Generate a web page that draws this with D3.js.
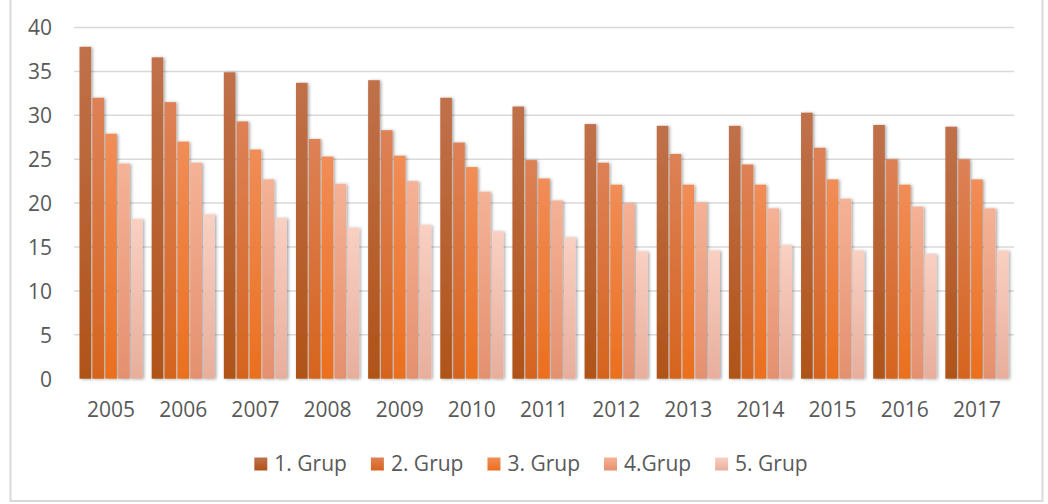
<!DOCTYPE html>
<html>
<head>
<meta charset="utf-8">
<script src="https://cdn.jsdelivr.net/npm/d3@7"></script>
<style>
  body { margin: 0; background: #fff; }
  svg text { font-family: "Open Sans", "Noto Sans", sans-serif; fill: #595959; }
</style>
</head>
<body>
<div id="chart"></div>
<script>
// data
const years = ["2005", "2006", "2007", "2008", "2009", "2010", "2011", "2012", "2013", "2014", "2015", "2016", "2017"];
const groups = ["1. Grup", "2. Grup", "3. Grup", "4.Grup", "5. Grup"];
const grup1 = [37.8, 36.6, 34.9, 33.7, 34.0, 32.0, 31.0, 29.0, 28.8, 28.8, 30.3, 28.9, 28.7];
const grup2 = [32.0, 31.5, 29.3, 27.3, 28.3, 26.9, 24.9, 24.6, 25.6, 24.4, 26.3, 25.0, 25.0];
const grup3 = [27.9, 27.0, 26.1, 25.3, 25.4, 24.1, 22.8, 22.1, 22.1, 22.1, 22.7, 22.1, 22.7];
const grup4 = [24.5, 24.6, 22.7, 22.2, 22.5, 21.3, 20.3, 20.0, 20.1, 19.4, 20.5, 19.6, 19.4];
const grup5 = [18.2, 18.7, 18.3, 17.2, 17.5, 16.8, 16.1, 14.5, 14.6, 15.2, 14.6, 14.2, 14.6];
const yTicks = [0, 5, 10, 15, 20, 25, 30, 35, 40];

const series = [grup1, grup2, grup3, grup4, grup5];
// top / bottom gradient stops for each group
const colors = [
    ["#c0714b", "#b05318"],
    ["#dd8156", "#d6641e"],
    ["#f18d57", "#eb6f1e"],
    ["#f5b296", "#e4906f"],
    ["#f9d0c2", "#e8ae9c"]
];

const w = 1048, h = 504;
const plotLeft = 75, plotRight = 1013, plotTop = 27.5, plotBottom = 378.7;

const svg = d3.select("#chart").append("svg")
    .attr("width", w)
    .attr("height", h);

const defs = svg.append("defs");
colors.forEach((c, i) => {
    const g = defs.append("linearGradient")
        .attr("id", "grad" + i)
        .attr("x1", 0).attr("y1", 0).attr("x2", 0).attr("y2", 1);
    g.append("stop").attr("offset", "0%").attr("stop-color", c[0]);
    g.append("stop").attr("offset", "100%").attr("stop-color", c[1]);
});
defs.append("filter")
    .attr("id", "shadow")
    .attr("x", "-50%").attr("y", "-10%").attr("width", "200%").attr("height", "120%")
  .append("feDropShadow")
    .attr("dx", 1.5).attr("dy", 0.5).attr("stdDeviation", 1.6)
    .attr("flood-color", "#000").attr("flood-opacity", 0.35);
defs.append("filter")
    .attr("id", "lineShadow")
    .attr("x", "-5%").attr("y", "-200%").attr("width", "110%").attr("height", "500%")
  .append("feDropShadow")
    .attr("dx", 0).attr("dy", 1.5).attr("stdDeviation", 1.2)
    .attr("flood-color", "#000").attr("flood-opacity", 0.25);

// outer frame
svg.append("rect")
    .attr("x", 10.5).attr("y", -2)
    .attr("width", 1032).attr("height", 503)
    .attr("fill", "none")
    .attr("stroke", "#d9d9d9")
    .attr("stroke-width", 2);

const y = d3.scaleLinear().domain([0, 40]).range([plotBottom, plotTop]);
const x0 = d3.scaleBand().domain(years).range([plotLeft, plotRight])
    .paddingInner(0.125).paddingOuter(0.0625);
const x1 = d3.scaleBand().domain(d3.range(groups.length)).range([0, x0.bandwidth()])
    .paddingInner(0.1);

// gridlines
svg.append("g")
    .selectAll("line")
    .data(yTicks.filter(d => d > 0))
    .enter()
    .append("line")
        .attr("x1", plotLeft - 1).attr("x2", plotRight + 1)
        .attr("y1", d => y(d)).attr("y2", d => y(d))
        .attr("stroke", "#d9d9d9")
        .attr("stroke-width", 1.5);

// y axis labels
const yAxis = d3.axisLeft(y).tickValues(yTicks).tickSize(0).tickPadding(0);
svg.append("g")
    .attr("transform", "translate(52,0)")
    .call(yAxis)
    .call(g => g.select(".domain").remove())
    .selectAll("text")
        .style("font-size", "21px")
        .attr("fill", "#595959")
        .attr("dy", "0.35em");

// bars
const yearG = svg.append("g")
    .selectAll("g")
    .data(years)
    .enter()
    .append("g")
        .attr("transform", d => `translate(${x0(d)},0)`);

yearG.selectAll("rect")
    .data((d, i) => series.map((s, k) => ({ k: k, v: s[i] })))
    .enter()
    .append("rect")
        .attr("x", d => x1(d.k))
        .attr("y", d => y(d.v))
        .attr("width", x1.bandwidth())
        .attr("height", d => y(0) - y(d.v))
        .attr("fill", d => `url(#grad${d.k})`)
        .attr("filter", "url(#shadow)");

// baseline
svg.append("line")
    .attr("x1", plotLeft - 1).attr("x2", plotRight + 1)
    .attr("y1", y(0) + 1).attr("y2", y(0) + 1)
    .attr("stroke", "#d9d9d9")
    .attr("stroke-width", 2)
    .attr("filter", "url(#lineShadow)");

// x axis labels
const xAxis = d3.axisBottom(x0).tickSize(0).tickPadding(0);
svg.append("g")
    .attr("transform", `translate(0,${y(0)})`)
    .call(xAxis)
    .call(g => g.select(".domain").remove())
    .selectAll("text")
        .style("font-size", "21px")
        .attr("fill", "#595959")
        .attr("y", 0)
        .attr("dy", 38);

// legend
const legend = svg.append("g");
const items = legend.selectAll("g")
    .data(groups)
    .enter()
    .append("g");
items.append("rect")
    .attr("width", 13).attr("height", 13)
    .attr("y", 457.5)
    .attr("fill", (d, i) => `url(#grad${i})`);
items.append("text")
    .text(d => d)
    .attr("x", 20)
    .attr("y", 464)
    .attr("dy", "0.35em")
    .style("font-size", "21px");

let cx = 0;
const offsets = [];
items.each(function () {
    offsets.push(cx);
    cx += 20 + d3.select(this).select("text").node().getComputedTextLength() + 24;
});
const total = cx - 24;
const start = 531 - total / 2;
items.attr("transform", (d, i) => `translate(${start + offsets[i]},0)`);
</script>
</body>
</html>
